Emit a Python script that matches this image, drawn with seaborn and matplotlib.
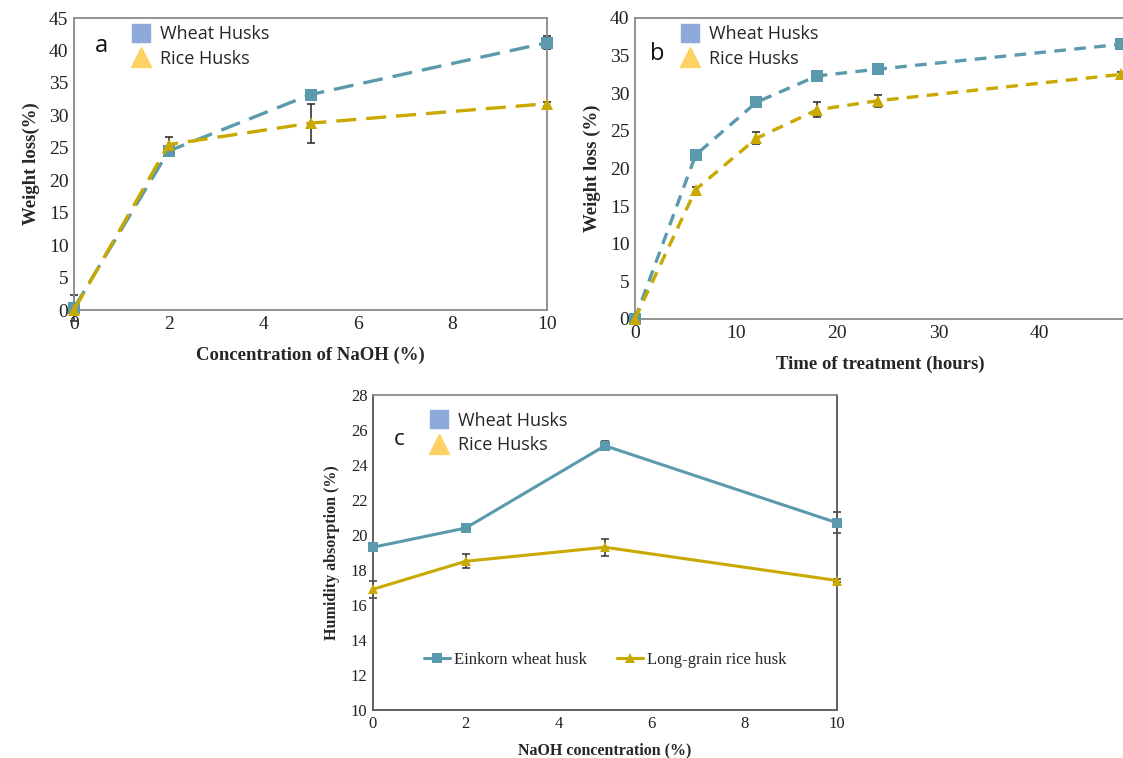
import numpy as np
import pandas as pd
import matplotlib
matplotlib.use("Agg")
import matplotlib.pyplot as plt
import seaborn as sns
from matplotlib.lines import Line2D

sns.set_theme(style="white")
plt.rcParams['font.family'] = ['Liberation Serif', 'DejaVu Serif']

# ---- data ----
# panel a: NaOH concentration
conc_a = [0, 2, 5, 10]
wheat_a = [0.3, 24.5, 33.2, 41.2]
wheat_a_err = [2.0, 0.6, 0.7, 1.0]
rice_a = [0.0, 25.5, 28.8, 31.8]
rice_a_err = [0.3, 1.1, 3.0, 0.3]

# panel b: time of treatment
time_b = [0, 6, 12, 18, 24, 48]
wheat_b = [0.0, 21.8, 28.8, 32.3, 33.2, 36.5]
wheat_b_err = [0.3, 0.3, 0.4, 0.6, 0.3, 0.4]
rice_b = [0.0, 17.2, 24.0, 27.8, 29.0, 32.5]
rice_b_err = [0.3, 0.4, 0.8, 1.0, 0.8, 0.3]

# panel c: humidity absorption
conc_c = [0, 2, 5, 10]
wheat_c = [19.3, 20.4, 25.1, 20.7]
wheat_c_err = [0.15, 0.15, 0.25, 0.6]
rice_c = [16.9, 18.5, 19.3, 17.4]
rice_c_err = [0.5, 0.4, 0.5, 0.1]

WHEAT = '#5b9aad'
RICE = '#c9a800'
LEG_SQ = '#8eaadb'
LEG_TRI = '#fdd262'
SPINE = '#8a8a8a'

fig = plt.figure(figsize=(11.23, 7.58), dpi=100)
ax_a = fig.add_axes([0.0659, 0.5910, 0.4212, 0.3852])
ax_b = fig.add_axes([0.5654, 0.5792, 0.4372, 0.3971])
ax_c = fig.add_axes([0.3321, 0.0633, 0.4132, 0.4156])


def draw(ax, x, yw, ew, yr, er, ls, lw, ms):
    dfw = pd.DataFrame({'x': x, 'y': yw})
    dfr = pd.DataFrame({'x': x, 'y': yr})
    sns.lineplot(data=dfw, x='x', y='y', ax=ax, color=WHEAT, linestyle=ls, lw=lw,
                 marker='s', markersize=ms, markeredgewidth=0, clip_on=False, zorder=3)
    sns.lineplot(data=dfr, x='x', y='y', ax=ax, color=RICE, linestyle=ls, lw=lw,
                 marker='^', markersize=ms, markeredgewidth=0, clip_on=False, zorder=4)
    ax.errorbar(x, yw, yerr=ew, fmt='none', ecolor='#333333', elinewidth=1.2,
                capsize=3, capthick=1.2, zorder=2, clip_on=False)
    ax.errorbar(x, yr, yerr=er, fmt='none', ecolor='#333333', elinewidth=1.2,
                capsize=3, capthick=1.2, zorder=2, clip_on=False)


def style(ax, fs):
    for s in ax.spines.values():
        s.set_color(SPINE)
        s.set_linewidth(1.3)
    ax.tick_params(axis='both', labelsize=fs, colors='#222222', length=0, pad=4)


def husk_legend(ax, letter, lx, ly, bx, by):
    ax.text(lx, ly, letter, transform=ax.transAxes, fontsize=17,
            family=['Open Sans', 'DejaVu Sans'], color='#111111', va='center')
    handles = [Line2D([], [], ls='none', marker='s', markersize=13, color=LEG_SQ),
               Line2D([], [], ls='none', marker='^', markersize=14, color=LEG_TRI)]
    ax.legend(handles, ['Wheat Husks', 'Rice Husks'], loc='upper left',
              bbox_to_anchor=(bx, by), frameon=False, handlelength=0.9,
              handletextpad=0.6, labelspacing=0.35, borderaxespad=0,
              prop={'family': ['Open Sans', 'DejaVu Sans'], 'size': 13})


# ---- panel a ----
draw(ax_a, conc_a, wheat_a, wheat_a_err, rice_a, rice_a_err, (0, (6, 3)), 2.4, 8)
ax_a.set_xlim(0, 10)
ax_a.set_ylim(0, 45)
ax_a.set_xticks([0, 2, 4, 6, 8, 10])
ax_a.set_yticks(range(0, 46, 5))
ax_a.set_xlabel('Concentration of NaOH (%)', fontsize=13.5, fontweight='bold', labelpad=10)
ax_a.set_ylabel('Weight loss(%)', fontsize=13.5, fontweight='bold', labelpad=6)
style(ax_a, 14)
husk_legend(ax_a, 'a', 0.045, 0.905, 0.11, 1.0)

# ---- panel b ----
draw(ax_b, time_b, wheat_b, wheat_b_err, rice_b, rice_b_err, (0, (3.5, 2.5)), 2.4, 8)
ax_b.set_xlim(0, 48.5)
ax_b.set_ylim(0, 40)
ax_b.set_xticks([0, 10, 20, 30, 40])
ax_b.set_yticks(range(0, 41, 5))
ax_b.set_xlabel('Time of treatment (hours)', fontsize=13.5, fontweight='bold', labelpad=10)
ax_b.set_ylabel('Weight loss (%)', fontsize=13.5, fontweight='bold', labelpad=6)
style(ax_b, 14)
husk_legend(ax_b, 'b', 0.03, 0.88, 0.08, 1.0)

# ---- panel c ----
dfw = pd.DataFrame({'x': conc_c, 'y': wheat_c})
dfr = pd.DataFrame({'x': conc_c, 'y': rice_c})
sns.lineplot(data=dfw, x='x', y='y', ax=ax_c, color=WHEAT, lw=2.2, marker='s',
             markersize=7, markeredgewidth=0, clip_on=False, zorder=3,
             label='Einkorn wheat husk')
sns.lineplot(data=dfr, x='x', y='y', ax=ax_c, color=RICE, lw=2.2, marker='^',
             markersize=7, markeredgewidth=0, clip_on=False, zorder=4,
             label='Long-grain rice husk')
ax_c.errorbar(conc_c, wheat_c, yerr=wheat_c_err, fmt='none', ecolor='#333333',
              elinewidth=1.1, capsize=3, capthick=1.1, zorder=2, clip_on=False)
ax_c.errorbar(conc_c, rice_c, yerr=rice_c_err, fmt='none', ecolor='#333333',
              elinewidth=1.1, capsize=3, capthick=1.1, zorder=2, clip_on=False)
ax_c.set_xlim(0, 10)
ax_c.set_ylim(10, 28)
ax_c.set_xticks([0, 2, 4, 6, 8, 10])
ax_c.set_yticks(range(10, 29, 2))
ax_c.set_xlabel('NaOH concentration (%)', fontsize=11.5, fontweight='bold', labelpad=8)
ax_c.set_ylabel('Humidity absorption (%)', fontsize=11.5, fontweight='bold', labelpad=8)
style(ax_c, 12)
ax_c.tick_params(axis='both', direction='in', length=4, width=1, color=SPINE)
ax_c.spines['left'].set_color('#555555')
ax_c.spines['bottom'].set_color('#555555')
ax_c.spines['right'].set_color('#555555')
ax_c.legend(loc='center', bbox_to_anchor=(0.5, 0.16), ncol=2, frameon=False,
            fontsize=12, handlelength=1.6, handletextpad=0.2, columnspacing=1.8)
ax_c.text(0.045, 0.86, 'c', transform=ax_c.transAxes, fontsize=16,
          family=['Open Sans', 'DejaVu Sans'], color='#111111', va='center')
handles = [Line2D([], [], ls='none', marker='s', markersize=13, color=LEG_SQ),
           Line2D([], [], ls='none', marker='^', markersize=14, color=LEG_TRI)]
leg2 = matplotlib.legend.Legend(ax_c, handles, ['Wheat Husks', 'Rice Husks'],
                                loc='upper left', bbox_to_anchor=(0.11, 0.97),
                                frameon=False, handlelength=0.9, handletextpad=0.6,
                                labelspacing=0.35, borderaxespad=0,
                                prop={'family': ['Open Sans', 'DejaVu Sans'], 'size': 13})
ax_c.add_artist(leg2)

fig.savefig('out.png', dpi=100)
